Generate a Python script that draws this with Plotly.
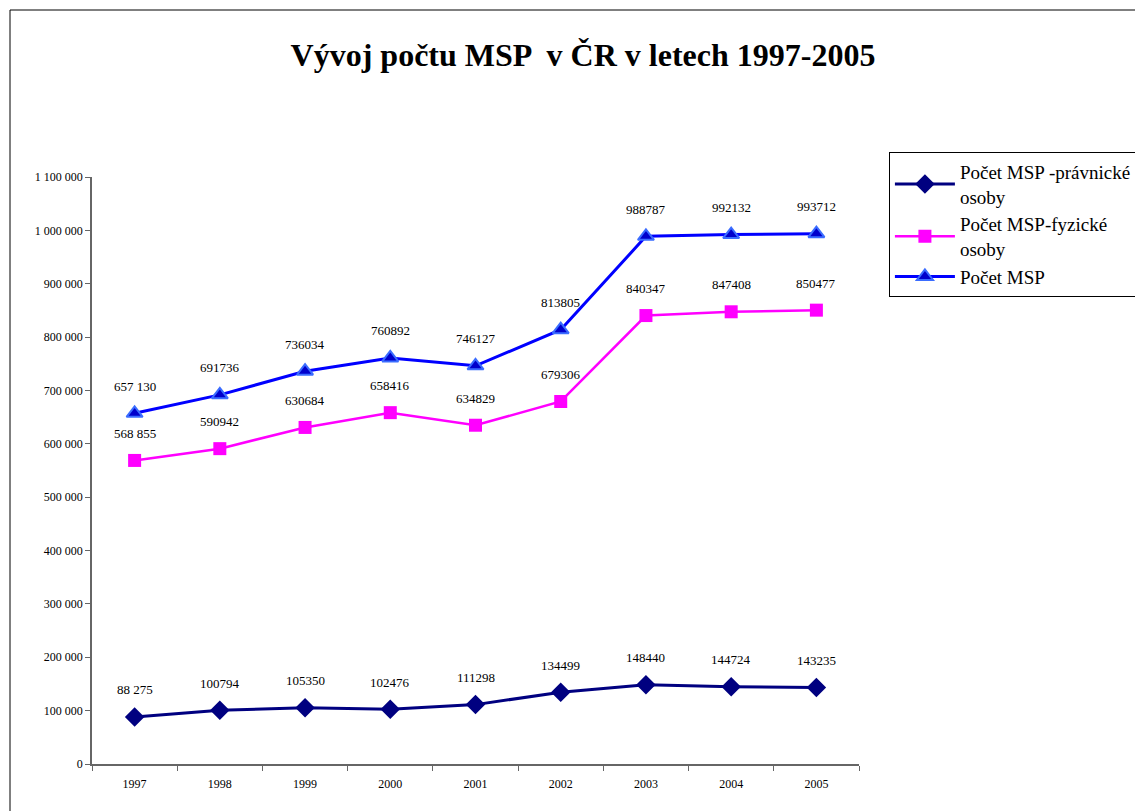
import plotly.graph_objects as go

years = ["1997", "1998", "1999", "2000", "2001", "2002", "2003", "2004", "2005"]
pravnicke = [88275, 100794, 105350, 102476, 111298, 134499, 148440, 144724, 143235]
fyzicke = [568855, 590942, 630684, 658416, 634829, 679306, 840347, 847408, 850477]
celkem = [657130, 691736, 736034, 760892, 746127, 813805, 988787, 992132, 993712]
names = ["Počet MSP -právnické<br>osoby", "Počet MSP-fyzické<br>osoby", "Počet MSP"]
y_ticks = [0, 100000, 200000, 300000, 400000, 500000, 600000, 700000, 800000, 900000, 1000000, 1100000]

FONT = "Liberation Serif, Times New Roman, serif"

def fmt_space(v):
    return f"{v:,}".replace(",", " ")

def label(i, v):
    return fmt_space(v) if i == 0 else str(v)

fig = go.Figure()
fig.add_trace(go.Scatter(x=years, y=pravnicke, name=names[0], mode="lines+markers",
                         line=dict(color="#000080", width=3),
                         marker=dict(symbol="diamond", size=15, color="#000080")))
fig.add_trace(go.Scatter(x=years, y=fyzicke, name=names[1], mode="lines+markers",
                         line=dict(color="#FF00FF", width=2.5),
                         marker=dict(symbol="square", size=13, color="#FF00FF")))
fig.add_trace(go.Scatter(x=years, y=celkem, name=names[2], mode="lines+markers",
                         line=dict(color="#0000FF", width=3),
                         marker=dict(symbol="triangle-up", size=14, color="#0000CC",
                                     line=dict(color="#3A6CFF", width=2))))

annotations = []
for series in (pravnicke, fyzicke, celkem):
    for i, v in enumerate(series):
        annotations.append(dict(x=i, y=v, xref="x", yref="y", text=label(i, v), showarrow=False,
                                yshift=27, font=dict(family=FONT, size=13, color="black")))

tick_text = [fmt_space(t) for t in y_ticks]

L, R, T, B = 84, 292, 169, 55
H = 811
plot_h = H - T - B
plot_w = 1143 - L - R

fig.update_layout(
    width=1143, height=H,
    margin=dict(l=L, r=R, t=T, b=B),
    paper_bgcolor="white", plot_bgcolor="white",
    title=dict(text="<b>Vývoj počtu MSP  v ČR v letech 1997-2005</b>",
               x=575 / 1143, xanchor="center", y=1 - 47 / H, yanchor="middle",
               font=dict(family=FONT, size=32, color="black")),
    font=dict(family=FONT, color="black"),
    showlegend=True,
    legend=dict(x=1.039, y=1.043, xanchor="left", yanchor="top",
                bordercolor="black", borderwidth=1, bgcolor="white",
                font=dict(family=FONT, size=19, color="black"),
                tracegroupgap=0, itemwidth=60),
    annotations=annotations,
    shapes=[dict(type="rect", xref="paper", yref="paper",
                 x0=(2 - L) / plot_w, x1=1.5, y0=-0.3, y1=(H - B - 2) / plot_h,
                 line=dict(color="black", width=1), fillcolor="rgba(0,0,0,0)", layer="below")],
)

fig.update_xaxes(type="category", range=[-0.5, 8.5], showline=True, linecolor="#666666", linewidth=1.5,
                 ticks="outside", tickson="boundaries", ticklen=5, tickcolor="#666666",
                 ticklabelstandoff=8,
                 showgrid=False, tickangle=0, tickfont=dict(family=FONT, size=12, color="black"))
fig.update_yaxes(range=[0, 1100000], showline=True, linecolor="#666666", linewidth=1.5,
                 ticks="outside", ticklen=5, tickcolor="#666666", showgrid=False,
                 zeroline=False, tickvals=y_ticks, ticktext=tick_text,
                 tickfont=dict(family=FONT, size=12, color="black"))

fig.write_html("out.html")
